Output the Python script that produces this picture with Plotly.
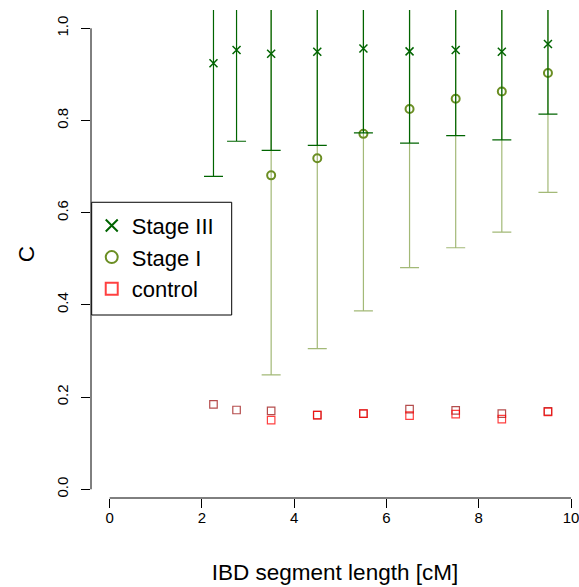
import plotly.graph_objects as go
import numpy as np

# ---------------- data ----------------
x_stage3 = [2.25, 2.75, 3.5, 4.5, 5.5, 6.5, 7.5, 8.5, 9.5]
x_stage1 = [3.5, 4.5, 5.5, 6.5, 7.5, 8.5, 9.5]

stage3_c = [0.924, 0.953, 0.945, 0.949, 0.956, 0.950, 0.953, 0.949, 0.966]
stage3_lo = [0.679, 0.755, 0.735, 0.746, 0.773, 0.751, 0.767, 0.758, 0.814]
stage3_hi = [1.17, 1.15, 1.16, 1.15, 1.14, 1.15, 1.14, 1.14, 1.12]

stage1_c = [0.681, 0.718, 0.771, 0.825, 0.847, 0.863, 0.903]
stage1_lo = [0.248, 0.305, 0.387, 0.481, 0.524, 0.558, 0.644]
stage1_hi = [1.11, 1.13, 1.16, 1.17, 1.17, 1.17, 1.16]

control3_c = [0.184, 0.172, 0.170, 0.161, 0.164, 0.174, 0.171, 0.164, 0.169]
control1_c = [0.150, 0.161, 0.164, 0.160, 0.163, 0.152, 0.168]

x_ticks = [0, 2, 4, 6, 8, 10]
y_ticks = [0.0, 0.2, 0.4, 0.6, 0.8, 1.0]

# ---------------- styles ----------------
FONT = "Liberation Sans, Arial, Helvetica, sans-serif"
DARKGREEN = "#006400"
OLIVE = "#6b8e23"
OLIVE_BAR = "rgba(107,142,35,0.62)"

s3 = np.array(stage3_c); s1 = np.array(stage1_c)

fig = go.Figure()

fig.add_trace(go.Scatter(
    x=x_stage3, y=control3_c, mode="markers", showlegend=False,
    marker=dict(symbol="square-open", size=7.5, color="rgba(150,0,0,0.7)",
                line=dict(width=1.2, color="rgba(150,0,0,0.7)")),
))
fig.add_trace(go.Scatter(
    x=x_stage1, y=control1_c, mode="markers", name="control", legendrank=3,
    marker=dict(symbol="square-open", size=7.5, color="rgba(255,0,0,0.75)",
                line=dict(width=1.2, color="rgba(255,0,0,0.75)")),
))
fig.add_trace(go.Scatter(
    x=x_stage1, y=stage1_c, mode="markers", name="Stage I", legendrank=2,
    marker=dict(symbol="circle-open", size=8, color=OLIVE,
                line=dict(width=2, color=OLIVE)),
    error_y=dict(type="data", symmetric=False,
                 array=np.array(stage1_hi) - s1,
                 arrayminus=s1 - np.array(stage1_lo),
                 color=OLIVE_BAR, thickness=1.2, width=9.5),
))
fig.add_trace(go.Scatter(
    x=x_stage3, y=stage3_c, mode="markers", name="Stage III", legendrank=1,
    marker=dict(symbol="x-thin-open", size=8, color=DARKGREEN,
                line=dict(width=1.5, color=DARKGREEN)),
    error_y=dict(type="data", symmetric=False,
                 array=np.array(stage3_hi) - s3,
                 arrayminus=s3 - np.array(stage3_lo),
                 color=DARKGREEN, thickness=1.2, width=9.5),
))

# axis lines spanning first..last tick (R style)
fig.add_shape(type="line", xref="x", yref="paper", x0=x_ticks[0], x1=x_ticks[-1],
              y0=0, y1=0, line=dict(color="black", width=1))
fig.add_shape(type="line", xref="paper", yref="y", x0=0, x1=0,
              y0=y_ticks[0], y1=y_ticks[-1], line=dict(color="black", width=1))
# legend frame (R-style box)
fig.add_shape(type="rect", xref="paper", yref="paper", x0=0.0014, x1=0.2883,
              y0=0.375, y1=0.606, fillcolor="white", layer="above",
              line=dict(color="black", width=1))

fig.update_layout(
    width=579, height=587,
    margin=dict(l=91, r=0, t=10, b=89, autoexpand=False),
    paper_bgcolor="white", plot_bgcolor="white",
    font=dict(family=FONT, color="black", size=15),
    showlegend=True,
    legend=dict(x=0.0015, y=0.601, xanchor="left", yanchor="top",
                bgcolor="rgba(0,0,0,0)", borderwidth=0,
                font=dict(size=22, family=FONT), itemsizing="constant",
                tracegroupgap=0),
    xaxis=dict(range=[-0.405, 10.173], tickvals=x_ticks, ticktext=[str(v) for v in x_ticks],
               ticks="outside", ticklen=9, tickwidth=1, tickcolor="black",
               showgrid=False, zeroline=False, showline=False,
               ticklabeloverflow="allow", ticklabelstandoff=-3,
               tickfont=dict(size=15), automargin=False,
               title=dict(text="IBD segment length [cM]", font=dict(size=22.5), standoff=39)),
    yaxis=dict(range=[-0.0189, 1.0397], tickvals=y_ticks, ticktext=[f"{v:.1f}" for v in y_ticks],
               ticks="outside", ticklen=9, tickwidth=1, tickcolor="black", tickangle=-90,
               showgrid=False, zeroline=False, showline=False,
               ticklabelstandoff=7,
               tickfont=dict(size=15), automargin=False,
               title=dict(text="C", font=dict(size=22.5), standoff=13)),
)

fig.write_html("out.html")
